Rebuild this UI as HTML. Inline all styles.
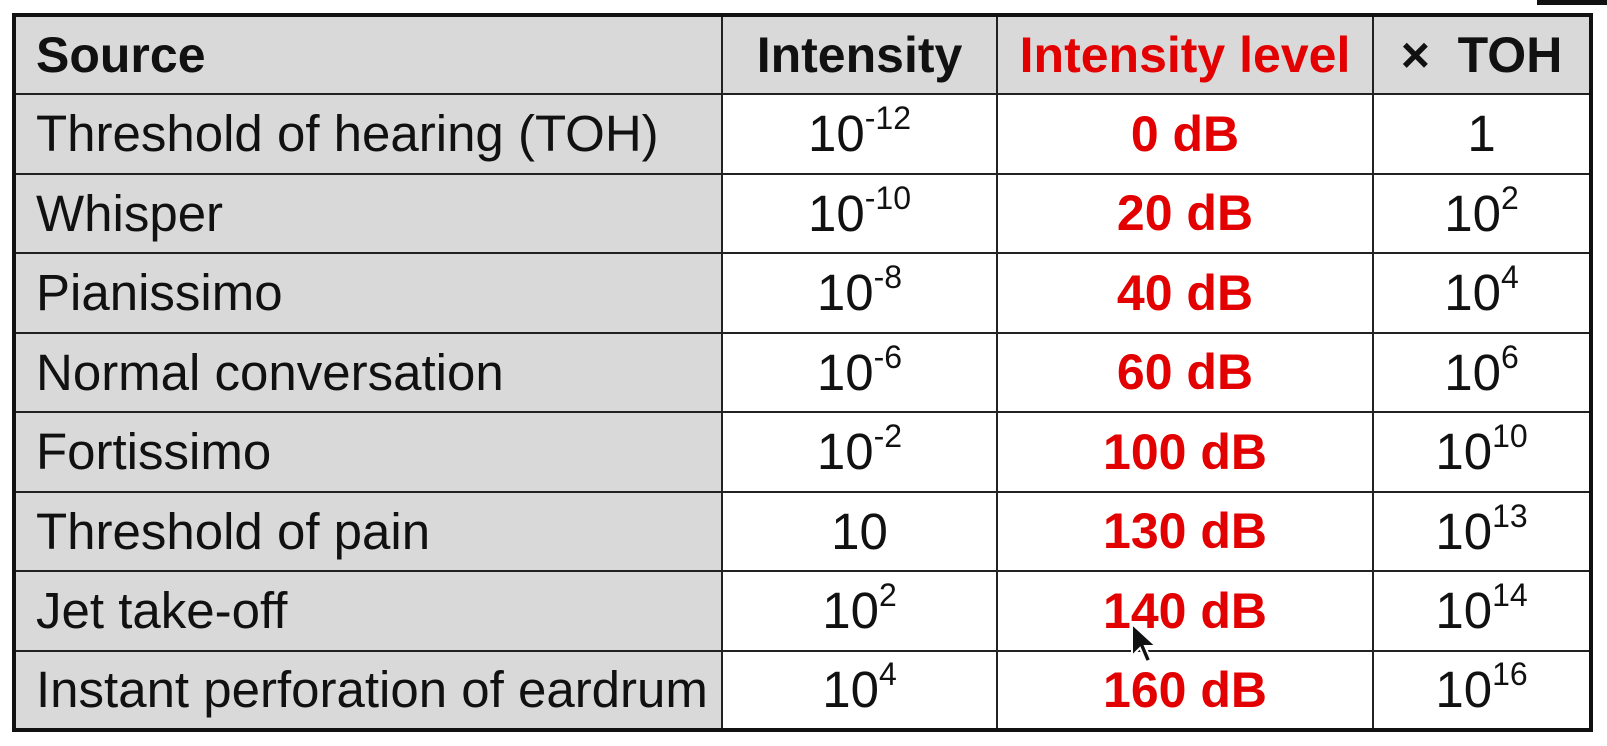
<!DOCTYPE html>
<html><head><meta charset="utf-8">
<style>
html,body{margin:0;padding:0;background:#fff;width:1607px;height:746px;overflow:hidden;}
body{font-family:"Liberation Sans",Arial,sans-serif;}
table{position:absolute;left:12px;top:13px;width:1577px;border-collapse:collapse;table-layout:fixed;border:4px solid #111;}
td,th{border:2px solid #222;height:79.5px;padding:0;font-size:51px;color:#111;text-align:center;background:#fff;white-space:nowrap;overflow:hidden;box-sizing:border-box;}
th{font-weight:bold;background:#d9d9d9;height:79px;font-size:50px;}
td.src,th.src{text-align:left;padding-left:20px;background:#d9d9d9;}
.red{color:#e30000;font-weight:bold;font-size:50px;}
th.red{font-size:50px;}
sup{font-size:32px;position:relative;top:-2px;vertical-align:top;line-height:1;}
.topbar{position:absolute;left:1537px;top:0;width:70px;height:5px;background:#111;}
</style></head><body>
<div class="topbar"></div>
<table>
<colgroup><col style="width:708px"><col style="width:275px"><col style="width:376px"><col style="width:218px"></colgroup>
<tr>
<th class="src">Source</th>
<th>Intensity</th>
<th class="red">Intensity level</th>
<th>×&nbsp; TOH</th></tr>
<tr><td class="src">Threshold of hearing (TOH)</td><td>10<sup>-12</sup></td><td class="red">0 dB</td><td>1</td></tr>
<tr><td class="src">Whisper</td><td>10<sup>-10</sup></td><td class="red">20 dB</td><td>10<sup>2</sup></td></tr>
<tr><td class="src">Pianissimo</td><td>10<sup>-8</sup></td><td class="red">40 dB</td><td>10<sup>4</sup></td></tr>
<tr><td class="src">Normal conversation</td><td>10<sup>-6</sup></td><td class="red">60 dB</td><td>10<sup>6</sup></td></tr>
<tr><td class="src">Fortissimo</td><td>10<sup>-2</sup></td><td class="red">100 dB</td><td>10<sup>10</sup></td></tr>
<tr><td class="src">Threshold of pain</td><td>10</td><td class="red">130 dB</td><td>10<sup>13</sup></td></tr>
<tr><td class="src">Jet take-off</td><td>10<sup>2</sup></td><td class="red">140 dB</td><td>10<sup>14</sup></td></tr>
<tr><td class="src">Instant perforation of eardrum</td><td>10<sup>4</sup></td><td class="red">160 dB</td><td>10<sup>16</sup></td></tr>
</table>
<svg style="position:absolute;left:1130px;top:622px" width="30" height="44" viewBox="0 0 30 44">
<path d="M2 2 L2 34 L10 26 L16 40 L21 38 L15 24 L26 24 Z" fill="#111" stroke="#fff" stroke-width="2"/>
</svg>
</body></html>
